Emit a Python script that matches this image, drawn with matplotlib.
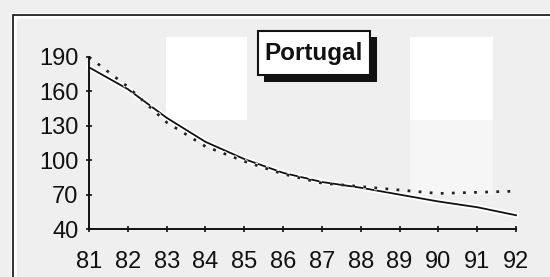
import matplotlib
matplotlib.use('Agg')
import matplotlib.pyplot as plt
import matplotlib.patheffects as pe
from matplotlib.patches import Rectangle

years = [81, 82, 83, 84, 85, 86, 87, 88, 89, 90, 91, 92]
year_labels = ['81', '82', '83', '84', '85', '86', '87', '88', '89', '90', '91', '92']
solid = [181, 162, 137, 116, 101, 89, 81, 76, 70, 64, 59, 52]
dotted = [190, 164, 133, 112, 99, 88, 80, 77, 74, 71, 72, 73]
yticks = [40, 70, 100, 130, 160, 190]
title = 'Portugal'

bg = '#efefef'
plt.rcParams['font.family'] = ['Liberation Sans', 'DejaVu Sans']

fig = plt.figure(figsize=(5.5, 2.77), dpi=100, facecolor=bg)
W, H = 550, 277

def px(x0, y0, x1, y1, **kw):
    # rectangle in pixel coords from top-left of image
    return Rectangle((x0 / W, 1 - y1 / H), (x1 - x0) / W, (y1 - y0) / H,
                     transform=fig.transFigure, **kw)

# frame around the panel (top and left edges visible)
fig.add_artist(px(14, 16, 560, 290, facecolor='none', edgecolor='white', lw=4, zorder=-2))
fig.add_artist(px(13, 15, 560, 290, facecolor='none', edgecolor='#222222', lw=1.3, zorder=-2))

# light panels in the background
fig.add_artist(px(166, 37, 247, 120, facecolor='white', edgecolor='none', zorder=-1))
fig.add_artist(px(410, 37, 493, 120, facecolor='white', edgecolor='none', zorder=-1))
fig.add_artist(px(410, 120, 493, 195, facecolor='#f6f6f6', edgecolor='none', zorder=-1))

ax = fig.add_axes([89 / W, 1 - 229 / H, (516 - 89) / W, (229 - 57) / H])
ax.set_zorder(1)
ax.patch.set_alpha(0)
halo = [pe.withStroke(linewidth=4, foreground='white')]
ax.plot(years, solid, color='#111111', lw=1.3, clip_on=False, path_effects=halo)
ax.plot(years, dotted, color='#222222', lw=2.0, linestyle=(0, (1, 3)),
        clip_on=False, path_effects=[pe.withStroke(linewidth=3.5, foreground='white')])

ax.set_xlim(81, 92)
ax.set_ylim(40, 190)
ax.set_xticks(years)
ax.set_xticklabels(year_labels)
ax.set_yticks(yticks)
for s in ['top', 'right']:
    ax.spines[s].set_visible(False)
for s in ['left', 'bottom']:
    ax.spines[s].set_linewidth(1.4)
    ax.spines[s].set_color('#111111')
ax.tick_params(direction='inout', length=5, width=1.2, labelsize=17,
               colors='#111111', pad=5)
ax.tick_params(axis='x', pad=13)

# title box with drop shadow
fig.add_artist(px(264, 37, 377, 82, facecolor='#111111', edgecolor='none', zorder=2))
fig.add_artist(px(258, 31, 370, 75, facecolor='white', edgecolor='#111111', lw=1.5, zorder=3))
fig.text(314 / W, 1 - 53 / H, title, ha='center', va='center', fontsize=17.5,
         fontweight='bold', color='#111111', zorder=4)

fig.savefig('out.png', dpi=100, facecolor=bg)
